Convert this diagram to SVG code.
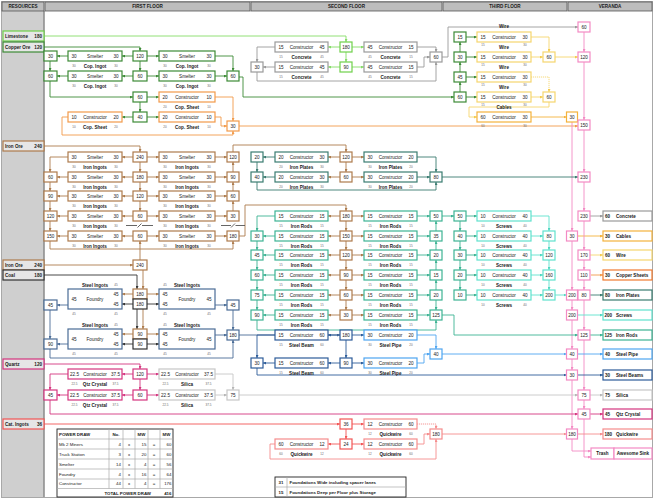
<svg xmlns="http://www.w3.org/2000/svg" width="654" height="500" viewBox="0 0 654 500">
<style>
text{font-family:"Liberation Sans",Arial,Helvetica,sans-serif;fill:#1a1a1a}
.t{font-size:4.6px;text-anchor:middle}
.b{font-weight:bold}
.s{font-size:3px;text-anchor:middle;fill:#666}
.stt{text-anchor:start}
.en{text-anchor:end}
.h{font-size:4.6px;font-weight:bold;text-anchor:middle}
.n rect{fill:#fff;stroke-width:1.2}
.r rect{fill:#e6e6e6;stroke-width:1.2}
.r text{font-size:4.6px;font-weight:bold}
.c path{fill:none;stroke-width:.9}
.c path.d{stroke-dasharray:1.2 .8}
.lime rect{stroke:#6fd04a}.lime path{stroke:#86dc68;marker-end:url(#m-lime)}
.cu rect{stroke:#3c8a36}.cu path{stroke:#3c8a36;marker-end:url(#m-cu)}
.cs rect{stroke:#f29a4a}.cs path{stroke:#f29a4a;marker-end:url(#m-cs)}
.csh rect{stroke:#f07a30}
.gray rect{stroke:#9a9a9a}.gray path{stroke:#9a9a9a;marker-end:url(#m-gray)}
.wire rect{stroke:#f6d66e}.wire path{stroke:#f6d66e;marker-end:url(#m-wire)}
.cab rect{stroke:#f4b23c}.cab path{stroke:#f4b23c;marker-end:url(#m-cab)}
.ver rect{stroke:#f38ac4}.ver path{stroke:#f38ac4;marker-end:url(#m-ver)}
.fe rect{stroke:#ad7b4c}.fe path{stroke:#ad7b4c;marker-end:url(#m-fe)}
.pl rect{stroke:#3a7c71}.pl path{stroke:#3a7c71;marker-end:url(#m-pl)}
.rod rect{stroke:#3db393}.rod path{stroke:#3db393;marker-end:url(#m-rod)}
.scr rect{stroke:#5fe2cd}.scr path{stroke:#5fe2cd;marker-end:url(#m-scr)}
.st rect{stroke:#4a6c96}.st path{stroke:#4a6c96;marker-end:url(#m-st)}
.coal rect{stroke:#333}.coal path{stroke:#333;marker-end:url(#m-coal)}
.bm rect{stroke:#2d5c99}.bm path{stroke:#2d5c99;marker-end:url(#m-bm)}
.pp rect{stroke:#4ea5f0}.pp path{stroke:#4ea5f0;marker-end:url(#m-pp)}
.qz rect{stroke:#d4357f}.qz path{stroke:#d4357f;marker-end:url(#m-qz)}
.si rect{stroke:#c6c6c6}.si path{stroke:#c6c6c6;marker-end:url(#m-si)}
.cat rect{stroke:#f25555}.cat path{stroke:#f25555;marker-end:url(#m-cat)}
.qw rect{stroke:#f58c8c}.qw path{stroke:#f58c8c;marker-end:url(#m-qw)}
.brk path{stroke:#555;marker-end:none}
.tb rect{fill:#fff;stroke:#222;stroke-width:.9}
.tb path{fill:none;stroke:#aaa;stroke-width:.7}
.tb text{font-size:4.4px}
</style>
<defs>
<marker id="m-lime" viewBox="0 0 6 6" refX="6" refY="3" markerWidth="3" markerHeight="3" markerUnits="userSpaceOnUse" orient="auto"><path d="M0,0L6,3L0,6z" fill="#86dc68"/></marker>
<marker id="m-cu" viewBox="0 0 6 6" refX="6" refY="3" markerWidth="3" markerHeight="3" markerUnits="userSpaceOnUse" orient="auto"><path d="M0,0L6,3L0,6z" fill="#3c8a36"/></marker>
<marker id="m-cs" viewBox="0 0 6 6" refX="6" refY="3" markerWidth="3" markerHeight="3" markerUnits="userSpaceOnUse" orient="auto"><path d="M0,0L6,3L0,6z" fill="#f29a4a"/></marker>
<marker id="m-gray" viewBox="0 0 6 6" refX="6" refY="3" markerWidth="3" markerHeight="3" markerUnits="userSpaceOnUse" orient="auto"><path d="M0,0L6,3L0,6z" fill="#9a9a9a"/></marker>
<marker id="m-wire" viewBox="0 0 6 6" refX="6" refY="3" markerWidth="3" markerHeight="3" markerUnits="userSpaceOnUse" orient="auto"><path d="M0,0L6,3L0,6z" fill="#f3cc50"/></marker>
<marker id="m-cab" viewBox="0 0 6 6" refX="6" refY="3" markerWidth="3" markerHeight="3" markerUnits="userSpaceOnUse" orient="auto"><path d="M0,0L6,3L0,6z" fill="#f4b23c"/></marker>
<marker id="m-ver" viewBox="0 0 6 6" refX="6" refY="3" markerWidth="3" markerHeight="3" markerUnits="userSpaceOnUse" orient="auto"><path d="M0,0L6,3L0,6z" fill="#f38ac4"/></marker>
<marker id="m-fe" viewBox="0 0 6 6" refX="6" refY="3" markerWidth="3" markerHeight="3" markerUnits="userSpaceOnUse" orient="auto"><path d="M0,0L6,3L0,6z" fill="#ad7b4c"/></marker>
<marker id="m-pl" viewBox="0 0 6 6" refX="6" refY="3" markerWidth="3" markerHeight="3" markerUnits="userSpaceOnUse" orient="auto"><path d="M0,0L6,3L0,6z" fill="#3a7c71"/></marker>
<marker id="m-rod" viewBox="0 0 6 6" refX="6" refY="3" markerWidth="3" markerHeight="3" markerUnits="userSpaceOnUse" orient="auto"><path d="M0,0L6,3L0,6z" fill="#3db393"/></marker>
<marker id="m-scr" viewBox="0 0 6 6" refX="6" refY="3" markerWidth="3" markerHeight="3" markerUnits="userSpaceOnUse" orient="auto"><path d="M0,0L6,3L0,6z" fill="#4fd6c0"/></marker>
<marker id="m-st" viewBox="0 0 6 6" refX="6" refY="3" markerWidth="3" markerHeight="3" markerUnits="userSpaceOnUse" orient="auto"><path d="M0,0L6,3L0,6z" fill="#4a6c96"/></marker>
<marker id="m-coal" viewBox="0 0 6 6" refX="6" refY="3" markerWidth="3" markerHeight="3" markerUnits="userSpaceOnUse" orient="auto"><path d="M0,0L6,3L0,6z" fill="#333"/></marker>
<marker id="m-bm" viewBox="0 0 6 6" refX="6" refY="3" markerWidth="3" markerHeight="3" markerUnits="userSpaceOnUse" orient="auto"><path d="M0,0L6,3L0,6z" fill="#2d5c99"/></marker>
<marker id="m-pp" viewBox="0 0 6 6" refX="6" refY="3" markerWidth="3" markerHeight="3" markerUnits="userSpaceOnUse" orient="auto"><path d="M0,0L6,3L0,6z" fill="#4ea5f0"/></marker>
<marker id="m-qz" viewBox="0 0 6 6" refX="6" refY="3" markerWidth="3" markerHeight="3" markerUnits="userSpaceOnUse" orient="auto"><path d="M0,0L6,3L0,6z" fill="#d4357f"/></marker>
<marker id="m-si" viewBox="0 0 6 6" refX="6" refY="3" markerWidth="3" markerHeight="3" markerUnits="userSpaceOnUse" orient="auto"><path d="M0,0L6,3L0,6z" fill="#b5b5b5"/></marker>
<marker id="m-cat" viewBox="0 0 6 6" refX="6" refY="3" markerWidth="3" markerHeight="3" markerUnits="userSpaceOnUse" orient="auto"><path d="M0,0L6,3L0,6z" fill="#f25555"/></marker>
<marker id="m-qw" viewBox="0 0 6 6" refX="6" refY="3" markerWidth="3" markerHeight="3" markerUnits="userSpaceOnUse" orient="auto"><path d="M0,0L6,3L0,6z" fill="#f58c8c"/></marker>
</defs>

<rect x="0" y="0" width="654" height="500" fill="#fff"/>
<g id="frame">
<rect x="2" y="11" width="42" height="486" fill="#cfcfcf"/>
<path d="M44,11V497" stroke="#8a8a8a" stroke-width="1.5"/>
<rect x="1.5" y="1.5" width="651" height="496" fill="none" stroke="#a8a8a8" stroke-width="1"/>
<g fill="#bdbdbd" stroke="#555" stroke-width=".8">
<rect x="2" y="2" width="42" height="9"/><rect x="45" y="2" width="205" height="9"/><rect x="251" y="2" width="191" height="9"/><rect x="443" y="2" width="124" height="9"/><rect x="568" y="2" width="84" height="9"/>
</g>
<text class="h" x="23" y="8.3">RESOURCES</text><text class="h" x="147.5" y="8.3">FIRST FLOOR</text><text class="h" x="346.5" y="8.3">SECOND FLOOR</text><text class="h" x="505" y="8.3">THIRD FLOOR</text><text class="h" x="610" y="8.3">VERANDA</text>
</g>

<g id="connectors" class="c">
<g class="lime">
<path d="M44,36H346V42"/><path d="M340,47H328"/><path d="M352,47H364"/><path d="M346,52V62"/><path d="M340,67H328"/><path d="M352,67H364"/>
</g>
<g class="cu">
<path d="M44,47H140V51"/><path d="M133,56H122"/><path d="M147,56H159"/><path d="M140,61V71"/><path d="M68,56H57"/><path d="M50,61V71"/>
<path d="M133,76H122"/><path d="M147,76H159"/><path d="M68,76H57"/><path d="M50,81V97H133"/><path d="M147,97H159"/><path d="M140,102V112"/>
<path d="M133,117H122"/><path d="M147,117H159"/><path d="M215,56H233V71"/><path d="M215,76H227"/><path d="M239,77H243V97H454"/>
<path d="M460,92V82"/><path d="M460,72V62"/><path d="M460,52V42"/>
<path d="M466,37H477"/><path d="M466,57H477"/><path d="M466,77H477"/><path d="M466,97H477"/>
</g>
<g class="cs">
<path d="M215,97H233V121"/><path d="M215,117H221V126H227"/><path d="M68,117H62V135H233V131"/><path d="M239,126H578"/><path d="M591,275H603"/>
</g>
<g class="gray">
<path d="M275,47H257V62"/><path d="M275,67H263"/><path d="M257,72V81H436V62"/><path d="M417,47H436V52"/><path d="M417,67H424V57H430"/><path d="M442,57H448V27H578"/><path d="M590,216H603"/>
</g>
<g class="wire">
<path d="M531,37H549V52"/><path d="M531,57H543"/><path class="d" d="M531,77H549V92"/><path d="M531,97H543"/><path d="M555,57H578"/><path d="M549,102V107H469V117H477"/><path d="M590,255H603"/>
</g>
<g class="cab">
<path d="M531,117H566.5"/><path d="M577.5,236H603"/>
</g>
<g class="ver">
<path d="M584,32V52"/><path d="M584,62V120"/><path d="M584,130V172"/><path d="M584,182V211"/><path d="M584,221V250"/><path d="M584,260V270"/><path d="M584,280V290"/><path d="M584,300V330"/><path d="M584,340V390"/><path d="M584,400V409"/><path d="M584,419V457H591"/>
<path d="M572,122V231"/><path d="M572,241V290"/><path d="M572,300V310"/><path d="M572,320V349"/><path d="M572,359V370"/><path d="M572,380V429"/><path d="M572,439V451H591"/>
</g>
<g class="fe">
<path d="M44,146H140V152"/>
<path d="M133,157H122"/><path d="M147,157H159"/><path d="M140,162V172"/>
<path d="M133,177H122"/><path d="M147,177H159"/><path d="M140,182V191"/>
<path d="M133,196H122"/><path d="M147,196H159"/><path d="M140,201V211"/>
<path d="M133,216H122"/><path d="M147,216H159"/>
<path d="M133,236H122"/><path d="M147,236H159"/>
<path d="M68,157H50V172"/><path d="M68,177H57"/><path d="M68,196H57"/><path d="M68,216H57"/><path d="M68,236H57"/>
<path d="M50,182V191"/><path d="M50,201V211"/><path d="M50,221V231"/>
<path d="M215,157H227"/><path d="M215,177H227"/><path d="M215,196H227"/><path d="M215,216H227"/><path d="M215,236H227"/>
<path d="M233,211V201"/><path d="M233,191V182"/><path d="M233,172V162"/>
<path d="M233,152V145H346V152"/>
<path d="M50,241V249H233V241"/>
<path d="M239,236H245V205H346V211"/>
<path d="M44,265H133"/><path d="M140,260V241"/><path d="M143,270V289"/>
<path d="M340,157H328"/><path d="M352,157H364"/><path d="M346,162V172"/><path d="M340,177H328"/><path d="M352,177H364"/>
<path d="M346,221V231"/><path d="M346,241V250"/><path d="M346,260V270"/><path d="M346,280V290"/><path d="M346,300V310"/>
<path d="M340,216H328"/><path d="M352,216H364"/><path d="M340,236H328"/><path d="M352,236H364"/><path d="M340,255H328"/><path d="M352,255H364"/>
<path d="M340,275H328"/><path d="M352,275H364"/><path d="M340,295H328"/><path d="M352,295H364"/><path d="M340,315H328"/><path d="M352,315H364"/>
<path d="M133,294H122"/><path d="M147,294H159"/><path d="M143,309V329"/><path d="M133,334H122"/><path d="M147,334H159"/>
</g>
<g class="brk">
<path d="M126,225.5H137M137.5,227.5L141.5,223.5M142,225.5H153"/><path d="M221,225.5H231M231,227.5L235,223.5M235.5,225.5H245"/>
</g>
<g class="pl">
<path d="M275,157H263"/><path d="M275,177H263"/><path d="M257,162V172"/><path d="M257,182V190H436V182"/><path d="M417,157H436V172"/><path d="M417,177H430"/><path d="M442,177H578"/><path d="M590,295H603"/>
</g>
<g class="rod">
<path d="M275,216H257V231"/><path d="M275,236H263"/><path d="M275,255H263"/><path d="M275,275H263"/><path d="M275,295H263"/><path d="M275,315H263"/>
<path d="M257,241V250"/><path d="M257,260V270"/><path d="M257,280V290"/><path d="M257,300V310"/><path d="M257,320V330H436V320"/>
<path d="M417,216H430"/><path d="M417,236H430"/><path d="M417,255H430"/><path d="M417,275H430"/><path d="M417,295H430"/><path d="M417,315H430"/>
<path d="M436,231V221"/><path d="M436,250V241"/><path d="M436,270V260"/><path d="M436,290V280"/><path d="M436,300V310"/>
<path d="M442,216H454"/><path d="M442,315H454V335H578"/>
<path d="M460,221V231"/><path d="M460,241V250"/><path d="M460,260V270"/><path d="M460,280V290"/>
<path d="M466,216H477"/><path d="M466,236H477"/><path d="M466,255H477"/><path d="M466,275H477"/><path d="M466,295H477"/>
<path d="M590,335H603"/>
</g>
<g class="scr">
<path d="M531,216H549V231"/><path d="M531,236H543"/><path d="M531,255H543"/><path d="M531,275H543"/><path d="M531,295H543"/>
<path d="M549,241V250"/><path d="M549,260V270"/><path d="M549,280V290"/><path d="M555,295H566.5"/><path d="M577.5,315H603"/>
</g>
<g class="coal">
<path d="M44,275H137V289"/><path d="M133,304H122"/><path d="M147,304H159"/><path d="M137,309V329"/><path d="M133,344H122"/><path d="M147,344H159"/>
</g>
<g class="st">
<path d="M68,305H57"/><path d="M50,310V339"/><path d="M68,344H57"/><path d="M50,349V358H233V340"/><path d="M215,305H227"/><path d="M233,310V330"/><path d="M215,335H227"/><path d="M239,335H340"/>
</g>
<g class="bm">
<path d="M340,335H328"/><path d="M352,335H364"/><path d="M346,340V358"/><path d="M340,363H328"/><path d="M352,363H364"/>
<path d="M275,335H257V358"/><path d="M275,363H263"/><path d="M257,368V375H566.5"/><path d="M577.5,375H603"/>
</g>
<g class="pp">
<path d="M417,335H436V349"/><path d="M417,363H424V354H430"/><path d="M442,354H566.5"/><path d="M577.5,354H603"/>
</g>
<g class="qz">
<path d="M44,364H140V369"/><path d="M133,374H122"/><path d="M147,374H159"/><path d="M140,379V390"/><path d="M133,395H122"/><path d="M147,395H159"/>
<path d="M68,374H50V390"/><path d="M68,395H57"/><path d="M50,400V414H578"/><path d="M590,414H603"/>
</g>
<g class="si">
<path d="M215,374H233V390"/><path d="M215,395H227"/><path d="M239,395H578"/><path d="M590,395H603"/>
</g>
<g class="cat">
<path d="M44,424H340"/><path d="M352,424H364"/><path d="M346,429V439"/><path d="M340,444H328"/><path d="M352,444H364"/>
</g>
<g class="qw">
<path class="d" d="M417,424H436V429"/><path d="M417,444H424V434H430"/><path d="M275,444H270V459H436V439"/><path d="M442,434H566.5"/><path d="M577.5,434H603"/>
</g>
</g>

<g id="resources">
<g id="res-limestone" class="r lime"><rect x="3" y="31" width="41" height="10"/><text x="5" y="37.7">Limestone</text><text class="en" x="42" y="37.7">180</text></g>
<g id="res-copper" class="r cu"><rect x="3" y="42" width="41" height="10"/><text x="5" y="48.7">Copper Ore</text><text class="en" x="42" y="48.7">120</text></g>
<g id="res-iron1" class="r fe"><rect x="3" y="141" width="41" height="10"/><text x="5" y="147.7">Iron Ore</text><text class="en" x="42" y="147.7">240</text></g>
<g id="res-iron2" class="r fe"><rect x="3" y="260" width="41" height="10"/><text x="5" y="266.7">Iron Ore</text><text class="en" x="42" y="266.7">240</text></g>
<g id="res-coal" class="r coal"><rect x="3" y="270" width="41" height="10"/><text x="5" y="276.7">Coal</text><text class="en" x="42" y="276.7">180</text></g>
<g id="res-quartz" class="r qz"><rect x="3" y="359" width="41" height="10"/><text x="5" y="365.7">Quartz</text><text class="en" x="42" y="365.7">120</text></g>
<g id="res-cat" class="r cat"><rect x="3" y="419" width="41" height="10"/><text x="5" y="425.7">Cat. Ingots</text><text class="en" x="42" y="425.7">36</text></g>
</g>

<g id="copper">
<g id="cu-30" class="n cu"><rect x="44" y="51" width="13" height="10"/><text class="t" x="50.5" y="57.7">30</text></g>
<g id="cu-60a" class="n cu"><rect x="44" y="71" width="13" height="10"/><text class="t" x="50.5" y="77.7">60</text></g>
<g id="cu-120" class="n cu"><rect x="133" y="51" width="14" height="10"/><text class="t" x="140" y="57.7">120</text></g>
<g id="cu-60b" class="n cu"><rect x="133" y="71" width="14" height="10"/><text class="t" x="140" y="77.7">60</text></g>
<g id="cu-60c" class="n cu"><rect x="133" y="92" width="14" height="10"/><text class="t" x="140" y="98.7">60</text></g>
<g id="cu-40" class="n cu"><rect x="133" y="112" width="14" height="10"/><text class="t" x="140" y="118.7">40</text></g>
<g id="cu-60d" class="n cu"><rect x="227" y="71" width="12" height="10"/><text class="t" x="233" y="77.7">60</text></g>
<g id="cs-30" class="n cs"><rect x="227" y="121" width="12" height="10"/><text class="t" x="233" y="127.7">30</text></g>
<g id="sm-cu1" class="n cu"><rect x="68" y="51" width="54" height="10"/><text class="t" x="74" y="57.7">30</text><text class="t" x="95" y="57.7">Smelter</text><text class="t" x="116" y="57.7">30</text><text class="s" x="74" y="66.5">30</text><text class="s" x="116" y="66.5">30</text><text class="t b" x="95" y="67.6">Cop. Ingot</text></g>
<g id="sm-cu2" class="n cu"><rect x="159" y="51" width="56" height="10"/><text class="t" x="165" y="57.7">30</text><text class="t" x="187" y="57.7">Smelter</text><text class="t" x="209" y="57.7">30</text><text class="s" x="165" y="66.5">30</text><text class="s" x="209" y="66.5">30</text><text class="t b" x="187" y="67.6">Cop. Ingot</text></g>
<g id="sm-cu3" class="n cu"><rect x="68" y="71" width="54" height="10"/><text class="t" x="74" y="77.7">30</text><text class="t" x="95" y="77.7">Smelter</text><text class="t" x="116" y="77.7">30</text><text class="s" x="74" y="86.5">30</text><text class="s" x="116" y="86.5">30</text><text class="t b" x="95" y="87.6">Cop. Ingot</text></g>
<g id="sm-cu4" class="n cu"><rect x="159" y="71" width="56" height="10"/><text class="t" x="165" y="77.7">30</text><text class="t" x="187" y="77.7">Smelter</text><text class="t" x="209" y="77.7">30</text><text class="s" x="165" y="86.5">30</text><text class="s" x="209" y="86.5">30</text><text class="t b" x="187" y="87.6">Cop. Ingot</text></g>
<g id="con-cs1" class="n cs"><rect x="159" y="92" width="56" height="10"/><text class="t" x="165" y="98.7">20</text><text class="t" x="187" y="98.7">Constructor</text><text class="t" x="209" y="98.7">10</text><text class="s" x="165" y="107.5">20</text><text class="s" x="209" y="107.5">10</text><text class="t b" x="187" y="108.6">Cop. Sheet</text></g>
<g id="con-cs2" class="n cs"><rect x="68" y="112" width="54" height="10"/><text class="t" x="74" y="118.7">10</text><text class="t" x="95" y="118.7">Constructor</text><text class="t" x="116" y="118.7">20</text><text class="s" x="74" y="127.5">10</text><text class="s" x="116" y="127.5">20</text><text class="t b" x="95" y="128.6">Cop. Sheet</text></g>
<g id="con-cs3" class="n cs"><rect x="159" y="112" width="56" height="10"/><text class="t" x="165" y="118.7">20</text><text class="t" x="187" y="118.7">Constructor</text><text class="t" x="209" y="118.7">10</text><text class="s" x="165" y="127.5">20</text><text class="s" x="209" y="127.5">10</text><text class="t b" x="187" y="128.6">Cop. Sheet</text></g>
</g>

<g id="concrete">
<g id="lime-180" class="n lime"><rect x="340" y="42" width="12" height="10"/><text class="t" x="346" y="48.7">180</text></g>
<g id="lime-90" class="n lime"><rect x="340" y="62" width="12" height="10"/><text class="t" x="346" y="68.7">90</text></g>
<g id="gray-30" class="n gray"><rect x="251" y="62" width="12" height="10"/><text class="t" x="257" y="68.7">30</text></g>
<g id="gray-60" class="n gray"><rect x="430" y="52" width="12" height="10"/><text class="t" x="436" y="58.7">60</text></g>
<g id="con-c1" class="n gray"><rect x="275" y="42" width="53" height="10"/><text class="t" x="281" y="48.7">15</text><text class="t" x="301.5" y="48.7">Constructor</text><text class="t" x="322" y="48.7">45</text><text class="s" x="281" y="57.5">15</text><text class="s" x="322" y="57.5">45</text><text class="t b" x="301.5" y="58.6">Concrete</text></g>
<g id="con-c2" class="n gray"><rect x="364" y="42" width="53" height="10"/><text class="t" x="370" y="48.7">45</text><text class="t" x="390.5" y="48.7">Constructor</text><text class="t" x="411" y="48.7">15</text><text class="s" x="370" y="57.5">45</text><text class="s" x="411" y="57.5">15</text><text class="t b" x="390.5" y="58.6">Concrete</text></g>
<g id="con-c3" class="n gray"><rect x="275" y="62" width="53" height="10"/><text class="t" x="281" y="68.7">15</text><text class="t" x="301.5" y="68.7">Constructor</text><text class="t" x="322" y="68.7">45</text><text class="s" x="281" y="77.5">15</text><text class="s" x="322" y="77.5">45</text><text class="t b" x="301.5" y="78.6">Concrete</text></g>
<g id="con-c4" class="n gray"><rect x="364" y="62" width="53" height="10"/><text class="t" x="370" y="68.7">45</text><text class="t" x="390.5" y="68.7">Constructor</text><text class="t" x="411" y="68.7">15</text><text class="s" x="370" y="77.5">45</text><text class="s" x="411" y="77.5">15</text><text class="t b" x="390.5" y="78.6">Concrete</text></g>
</g>

<g id="wire">
<g id="t-15" class="n cu"><rect x="454" y="32" width="12" height="10"/><text class="t" x="460" y="38.7">15</text></g>
<g id="t-30" class="n cu"><rect x="454" y="52" width="12" height="10"/><text class="t" x="460" y="58.7">30</text></g>
<g id="t-45" class="n cu"><rect x="454" y="72" width="12" height="10"/><text class="t" x="460" y="78.7">45</text></g>
<g id="t-60" class="n cu"><rect x="454" y="92" width="12" height="10"/><text class="t" x="460" y="98.7">60</text></g>
<g id="con-w1" class="n wire"><rect x="477" y="32" width="54" height="10"/><text class="t b" x="504" y="28">Wire</text><text class="t" x="483" y="38.7">15</text><text class="t" x="504" y="38.7">Constructor</text><text class="t" x="525" y="38.7">30</text><text class="s" x="483" y="46">15</text><text class="s" x="525" y="46">30</text></g>
<g id="con-w2" class="n wire"><rect x="477" y="52" width="54" height="10"/><text class="t b" x="504" y="48.5">Wire</text><text class="t" x="483" y="58.7">15</text><text class="t" x="504" y="58.7">Constructor</text><text class="t" x="525" y="58.7">30</text><text class="s" x="483" y="66">15</text><text class="s" x="525" y="66">30</text></g>
<g id="con-w3" class="n wire"><rect x="477" y="72" width="54" height="10"/><text class="t b" x="504" y="68.5">Wire</text><text class="t" x="483" y="78.7">15</text><text class="t" x="504" y="78.7">Constructor</text><text class="t" x="525" y="78.7">30</text><text class="s" x="483" y="86">15</text><text class="s" x="525" y="86">30</text></g>
<g id="con-w4" class="n wire"><rect x="477" y="92" width="54" height="10"/><text class="t b" x="504" y="88.5">Wire</text><text class="t" x="483" y="98.7">15</text><text class="t" x="504" y="98.7">Constructor</text><text class="t" x="525" y="98.7">30</text><text class="s" x="483" y="106">15</text><text class="s" x="525" y="106">30</text></g>
<g id="con-cab" class="n cab"><rect x="477" y="112" width="54" height="10"/><text class="t b" x="504" y="108.5">Cables</text><text class="t" x="483" y="118.7">60</text><text class="t" x="504" y="118.7">Constructor</text><text class="t" x="525" y="118.7">30</text><text class="s" x="483" y="126.5">60</text><text class="s" x="525" y="126.5">30</text></g>
<g id="w-60a" class="n wire"><rect x="543" y="52" width="12" height="10"/><text class="t" x="549" y="58.7">60</text></g>
<g id="w-60b" class="n wire"><rect x="543" y="92" width="12" height="10"/><text class="t" x="549" y="98.7">60</text></g>
<g id="cab-30" class="n cab"><rect x="566.5" y="112" width="11" height="10"/><text class="t" x="572" y="118.7">30</text></g>
</g>

<g id="iron-ingots">
<g id="fe-l60" class="n fe"><rect x="44" y="172" width="13" height="10"/><text class="t" x="50.5" y="178.7">60</text></g>
<g id="fe-l90" class="n fe"><rect x="44" y="191" width="13" height="10"/><text class="t" x="50.5" y="197.7">90</text></g>
<g id="fe-l120" class="n fe"><rect x="44" y="211" width="13" height="10"/><text class="t" x="50.5" y="217.7">120</text></g>
<g id="fe-l150" class="n fe"><rect x="44" y="231" width="13" height="10"/><text class="t" x="50.5" y="237.7">150</text></g>
<g id="fe-m240" class="n fe"><rect x="133" y="152" width="14" height="10"/><text class="t" x="140" y="158.7">240</text></g>
<g id="fe-m180" class="n fe"><rect x="133" y="172" width="14" height="10"/><text class="t" x="140" y="178.7">180</text></g>
<g id="fe-m120" class="n fe"><rect x="133" y="191" width="14" height="10"/><text class="t" x="140" y="197.7">120</text></g>
<g id="fe-m60a" class="n fe"><rect x="133" y="211" width="14" height="10"/><text class="t" x="140" y="217.7">60</text></g>
<g id="fe-m60b" class="n fe"><rect x="133" y="231" width="14" height="10"/><text class="t" x="140" y="237.7">60</text></g>
<g id="fe-r120" class="n fe"><rect x="227" y="152" width="12" height="10"/><text class="t" x="233" y="158.7">120</text></g>
<g id="fe-r90" class="n fe"><rect x="227" y="172" width="12" height="10"/><text class="t" x="233" y="178.7">90</text></g>
<g id="fe-r60" class="n fe"><rect x="227" y="191" width="12" height="10"/><text class="t" x="233" y="197.7">60</text></g>
<g id="fe-r30" class="n fe"><rect x="227" y="211" width="12" height="10"/><text class="t" x="233" y="217.7">30</text></g>
<g id="fe-r180" class="n fe"><rect x="227" y="231" width="12" height="10"/><text class="t" x="233" y="237.7">180</text></g>
<g id="sm-fe1" class="n fe"><rect x="68" y="152" width="54" height="10"/><text class="t" x="74" y="158.7">30</text><text class="t" x="95" y="158.7">Smelter</text><text class="t" x="116" y="158.7">30</text><text class="s" x="74" y="167.5">30</text><text class="s" x="116" y="167.5">30</text><text class="t b" x="95" y="168.6">Iron Ingots</text></g>
<g id="sm-fe2" class="n fe"><rect x="159" y="152" width="56" height="10"/><text class="t" x="165" y="158.7">30</text><text class="t" x="187" y="158.7">Smelter</text><text class="t" x="209" y="158.7">30</text><text class="s" x="165" y="167.5">30</text><text class="s" x="209" y="167.5">30</text><text class="t b" x="187" y="168.6">Iron Ingots</text></g>
<g id="sm-fe3" class="n fe"><rect x="68" y="172" width="54" height="10"/><text class="t" x="74" y="178.7">30</text><text class="t" x="95" y="178.7">Smelter</text><text class="t" x="116" y="178.7">30</text><text class="s" x="74" y="187.5">30</text><text class="s" x="116" y="187.5">30</text><text class="t b" x="95" y="188.6">Iron Ingots</text></g>
<g id="sm-fe4" class="n fe"><rect x="159" y="172" width="56" height="10"/><text class="t" x="165" y="178.7">30</text><text class="t" x="187" y="178.7">Smelter</text><text class="t" x="209" y="178.7">30</text><text class="s" x="165" y="187.5">30</text><text class="s" x="209" y="187.5">30</text><text class="t b" x="187" y="188.6">Iron Ingots</text></g>
<g id="sm-fe5" class="n fe"><rect x="68" y="191" width="54" height="10"/><text class="t" x="74" y="197.7">30</text><text class="t" x="95" y="197.7">Smelter</text><text class="t" x="116" y="197.7">30</text><text class="s" x="74" y="206.5">30</text><text class="s" x="116" y="206.5">30</text><text class="t b" x="95" y="207.6">Iron Ingots</text></g>
<g id="sm-fe6" class="n fe"><rect x="159" y="191" width="56" height="10"/><text class="t" x="165" y="197.7">30</text><text class="t" x="187" y="197.7">Smelter</text><text class="t" x="209" y="197.7">30</text><text class="s" x="165" y="206.5">30</text><text class="s" x="209" y="206.5">30</text><text class="t b" x="187" y="207.6">Iron Ingots</text></g>
<g id="sm-fe7" class="n fe"><rect x="68" y="211" width="54" height="10"/><text class="t" x="74" y="217.7">30</text><text class="t" x="95" y="217.7">Smelter</text><text class="t" x="116" y="217.7">30</text><text class="s" x="74" y="226.5">30</text><text class="s" x="116" y="226.5">30</text><text class="t b" x="95" y="227.6">Iron Ingots</text></g>
<g id="sm-fe8" class="n fe"><rect x="159" y="211" width="56" height="10"/><text class="t" x="165" y="217.7">30</text><text class="t" x="187" y="217.7">Smelter</text><text class="t" x="209" y="217.7">30</text><text class="s" x="165" y="226.5">30</text><text class="s" x="209" y="226.5">30</text><text class="t b" x="187" y="227.6">Iron Ingots</text></g>
<g id="sm-fe9" class="n fe"><rect x="68" y="231" width="54" height="10"/><text class="t" x="74" y="237.7">30</text><text class="t" x="95" y="237.7">Smelter</text><text class="t" x="116" y="237.7">30</text><text class="s" x="74" y="246.5">30</text><text class="s" x="116" y="246.5">30</text><text class="t b" x="95" y="247.6">Iron Ingots</text></g>
<g id="sm-fe10" class="n fe"><rect x="159" y="231" width="56" height="10"/><text class="t" x="165" y="237.7">30</text><text class="t" x="187" y="237.7">Smelter</text><text class="t" x="209" y="237.7">30</text><text class="s" x="165" y="246.5">30</text><text class="s" x="209" y="246.5">30</text><text class="t b" x="187" y="247.6">Iron Ingots</text></g>
</g>

<g id="iron-plates">
<g id="pl-20" class="n pl"><rect x="251" y="152" width="12" height="10"/><text class="t" x="257" y="158.7">20</text></g>
<g id="pl-40" class="n pl"><rect x="251" y="172" width="12" height="10"/><text class="t" x="257" y="178.7">40</text></g>
<g id="fe-p120" class="n fe"><rect x="340" y="152" width="12" height="10"/><text class="t" x="346" y="158.7">120</text></g>
<g id="fe-p60" class="n fe"><rect x="340" y="172" width="12" height="10"/><text class="t" x="346" y="178.7">60</text></g>
<g id="pl-80" class="n pl"><rect x="430" y="172" width="12" height="10"/><text class="t" x="436" y="178.7">80</text></g>
<g id="con-p1" class="n pl"><rect x="275" y="152" width="53" height="10"/><text class="t" x="281" y="158.7">20</text><text class="t" x="301.5" y="158.7">Constructor</text><text class="t" x="322" y="158.7">30</text><text class="s" x="281" y="167.5">20</text><text class="s" x="322" y="167.5">30</text><text class="t b" x="301.5" y="168.6">Iron Plates</text></g>
<g id="con-p2" class="n pl"><rect x="364" y="152" width="53" height="10"/><text class="t" x="370" y="158.7">30</text><text class="t" x="390.5" y="158.7">Constructor</text><text class="t" x="411" y="158.7">20</text><text class="s" x="370" y="167.5">30</text><text class="s" x="411" y="167.5">20</text><text class="t b" x="390.5" y="168.6">Iron Plates</text></g>
<g id="con-p3" class="n pl"><rect x="275" y="172" width="53" height="10"/><text class="t" x="281" y="178.7">20</text><text class="t" x="301.5" y="178.7">Constructor</text><text class="t" x="322" y="178.7">30</text><text class="s" x="281" y="187.5">20</text><text class="s" x="322" y="187.5">30</text><text class="t b" x="301.5" y="188.6">Iron Plates</text></g>
<g id="con-p4" class="n pl"><rect x="364" y="172" width="53" height="10"/><text class="t" x="370" y="178.7">30</text><text class="t" x="390.5" y="178.7">Constructor</text><text class="t" x="411" y="178.7">20</text><text class="s" x="370" y="187.5">30</text><text class="s" x="411" y="187.5">20</text><text class="t b" x="390.5" y="188.6">Iron Plates</text></g>
</g>

<g id="iron-rods">
<g id="fe-r1" class="n fe"><rect x="340" y="211" width="12" height="10"/><text class="t" x="346" y="217.7">180</text></g>
<g id="fe-r2" class="n fe"><rect x="340" y="231" width="12" height="10"/><text class="t" x="346" y="237.7">150</text></g>
<g id="fe-r3" class="n fe"><rect x="340" y="250" width="12" height="10"/><text class="t" x="346" y="256.7">120</text></g>
<g id="fe-r4" class="n fe"><rect x="340" y="270" width="12" height="10"/><text class="t" x="346" y="276.7">90</text></g>
<g id="fe-r5" class="n fe"><rect x="340" y="290" width="12" height="10"/><text class="t" x="346" y="296.7">60</text></g>
<g id="fe-r6" class="n fe"><rect x="340" y="310" width="12" height="10"/><text class="t" x="346" y="316.7">30</text></g>
<g id="rod-l30" class="n rod"><rect x="251" y="231" width="12" height="10"/><text class="t" x="257" y="237.7">30</text></g>
<g id="rod-l45" class="n rod"><rect x="251" y="250" width="12" height="10"/><text class="t" x="257" y="256.7">45</text></g>
<g id="rod-l60" class="n rod"><rect x="251" y="270" width="12" height="10"/><text class="t" x="257" y="276.7">60</text></g>
<g id="rod-l75" class="n rod"><rect x="251" y="290" width="12" height="10"/><text class="t" x="257" y="296.7">75</text></g>
<g id="rod-l90" class="n rod"><rect x="251" y="310" width="12" height="10"/><text class="t" x="257" y="316.7">90</text></g>
<g id="rod-r50" class="n rod"><rect x="430" y="211" width="12" height="10"/><text class="t" x="436" y="217.7">50</text></g>
<g id="rod-r35" class="n rod"><rect x="430" y="231" width="12" height="10"/><text class="t" x="436" y="237.7">35</text></g>
<g id="rod-r20a" class="n rod"><rect x="430" y="250" width="12" height="10"/><text class="t" x="436" y="256.7">20</text></g>
<g id="rod-r15" class="n rod"><rect x="430" y="270" width="12" height="10"/><text class="t" x="436" y="276.7">15</text></g>
<g id="rod-r20b" class="n rod"><rect x="430" y="290" width="12" height="10"/><text class="t" x="436" y="296.7">20</text></g>
<g id="rod-r125" class="n rod"><rect x="430" y="310" width="12" height="10"/><text class="t" x="436" y="316.7">125</text></g>
<g id="con-r1" class="n rod"><rect x="275" y="211" width="53" height="10"/><text class="t" x="281" y="217.7">15</text><text class="t" x="301.5" y="217.7">Constructor</text><text class="t" x="322" y="217.7">15</text><text class="s" x="281" y="226.5">15</text><text class="s" x="322" y="226.5">15</text><text class="t b" x="301.5" y="227.6">Iron Rods</text></g>
<g id="con-r2" class="n rod"><rect x="364" y="211" width="53" height="10"/><text class="t" x="370" y="217.7">15</text><text class="t" x="390.5" y="217.7">Constructor</text><text class="t" x="411" y="217.7">15</text><text class="s" x="370" y="226.5">15</text><text class="s" x="411" y="226.5">15</text><text class="t b" x="390.5" y="227.6">Iron Rods</text></g>
<g id="con-r3" class="n rod"><rect x="275" y="231" width="53" height="10"/><text class="t" x="281" y="237.7">15</text><text class="t" x="301.5" y="237.7">Constructor</text><text class="t" x="322" y="237.7">15</text><text class="s" x="281" y="246.5">15</text><text class="s" x="322" y="246.5">15</text><text class="t b" x="301.5" y="247.6">Iron Rods</text></g>
<g id="con-r4" class="n rod"><rect x="364" y="231" width="53" height="10"/><text class="t" x="370" y="237.7">15</text><text class="t" x="390.5" y="237.7">Constructor</text><text class="t" x="411" y="237.7">15</text><text class="s" x="370" y="246.5">15</text><text class="s" x="411" y="246.5">15</text><text class="t b" x="390.5" y="247.6">Iron Rods</text></g>
<g id="con-r5" class="n rod"><rect x="275" y="250" width="53" height="10"/><text class="t" x="281" y="256.7">15</text><text class="t" x="301.5" y="256.7">Constructor</text><text class="t" x="322" y="256.7">15</text><text class="s" x="281" y="265.5">15</text><text class="s" x="322" y="265.5">15</text><text class="t b" x="301.5" y="266.6">Iron Rods</text></g>
<g id="con-r6" class="n rod"><rect x="364" y="250" width="53" height="10"/><text class="t" x="370" y="256.7">15</text><text class="t" x="390.5" y="256.7">Constructor</text><text class="t" x="411" y="256.7">15</text><text class="s" x="370" y="265.5">15</text><text class="s" x="411" y="265.5">15</text><text class="t b" x="390.5" y="266.6">Iron Rods</text></g>
<g id="con-r7" class="n rod"><rect x="275" y="270" width="53" height="10"/><text class="t" x="281" y="276.7">15</text><text class="t" x="301.5" y="276.7">Constructor</text><text class="t" x="322" y="276.7">15</text><text class="s" x="281" y="285.5">15</text><text class="s" x="322" y="285.5">15</text><text class="t b" x="301.5" y="286.6">Iron Rods</text></g>
<g id="con-r8" class="n rod"><rect x="364" y="270" width="53" height="10"/><text class="t" x="370" y="276.7">15</text><text class="t" x="390.5" y="276.7">Constructor</text><text class="t" x="411" y="276.7">15</text><text class="s" x="370" y="285.5">15</text><text class="s" x="411" y="285.5">15</text><text class="t b" x="390.5" y="286.6">Iron Rods</text></g>
<g id="con-r9" class="n rod"><rect x="275" y="290" width="53" height="10"/><text class="t" x="281" y="296.7">15</text><text class="t" x="301.5" y="296.7">Constructor</text><text class="t" x="322" y="296.7">15</text><text class="s" x="281" y="305.5">15</text><text class="s" x="322" y="305.5">15</text><text class="t b" x="301.5" y="306.6">Iron Rods</text></g>
<g id="con-r10" class="n rod"><rect x="364" y="290" width="53" height="10"/><text class="t" x="370" y="296.7">15</text><text class="t" x="390.5" y="296.7">Constructor</text><text class="t" x="411" y="296.7">15</text><text class="s" x="370" y="305.5">15</text><text class="s" x="411" y="305.5">15</text><text class="t b" x="390.5" y="306.6">Iron Rods</text></g>
<g id="con-r11" class="n rod"><rect x="275" y="310" width="53" height="10"/><text class="t" x="281" y="316.7">15</text><text class="t" x="301.5" y="316.7">Constructor</text><text class="t" x="322" y="316.7">15</text><text class="s" x="281" y="325.5">15</text><text class="s" x="322" y="325.5">15</text><text class="t b" x="301.5" y="326.6">Iron Rods</text></g>
<g id="con-r12" class="n rod"><rect x="364" y="310" width="53" height="10"/><text class="t" x="370" y="316.7">15</text><text class="t" x="390.5" y="316.7">Constructor</text><text class="t" x="411" y="316.7">15</text><text class="s" x="370" y="325.5">15</text><text class="s" x="411" y="325.5">15</text><text class="t b" x="390.5" y="326.6">Iron Rods</text></g>
</g>

<g id="screws">
<g id="sc-l50" class="n rod"><rect x="454" y="211" width="12" height="10"/><text class="t" x="460" y="217.7">50</text></g>
<g id="sc-l40" class="n rod"><rect x="454" y="231" width="12" height="10"/><text class="t" x="460" y="237.7">40</text></g>
<g id="sc-l30" class="n rod"><rect x="454" y="250" width="12" height="10"/><text class="t" x="460" y="256.7">30</text></g>
<g id="sc-l20" class="n rod"><rect x="454" y="270" width="12" height="10"/><text class="t" x="460" y="276.7">20</text></g>
<g id="sc-l10" class="n rod"><rect x="454" y="290" width="12" height="10"/><text class="t" x="460" y="296.7">10</text></g>
<g id="sc-r80" class="n scr"><rect x="543" y="231" width="12" height="10"/><text class="t" x="549" y="237.7">80</text></g>
<g id="sc-r120" class="n scr"><rect x="543" y="250" width="12" height="10"/><text class="t" x="549" y="256.7">120</text></g>
<g id="sc-r160" class="n scr"><rect x="543" y="270" width="12" height="10"/><text class="t" x="549" y="276.7">160</text></g>
<g id="sc-r200" class="n scr"><rect x="543" y="290" width="12" height="10"/><text class="t" x="549" y="296.7">200</text></g>
<g id="con-s1" class="n scr"><rect x="477" y="211" width="54" height="10"/><text class="t" x="483" y="217.7">10</text><text class="t" x="504" y="217.7">Constructor</text><text class="t" x="525" y="217.7">40</text><text class="s" x="483" y="226.5">10</text><text class="s" x="525" y="226.5">40</text><text class="t b" x="504" y="227.6">Screws</text></g>
<g id="con-s2" class="n scr"><rect x="477" y="231" width="54" height="10"/><text class="t" x="483" y="237.7">10</text><text class="t" x="504" y="237.7">Constructor</text><text class="t" x="525" y="237.7">40</text><text class="s" x="483" y="246.5">10</text><text class="s" x="525" y="246.5">40</text><text class="t b" x="504" y="247.6">Screws</text></g>
<g id="con-s3" class="n scr"><rect x="477" y="250" width="54" height="10"/><text class="t" x="483" y="256.7">10</text><text class="t" x="504" y="256.7">Constructor</text><text class="t" x="525" y="256.7">40</text><text class="s" x="483" y="265.5">10</text><text class="s" x="525" y="265.5">40</text><text class="t b" x="504" y="266.6">Screws</text></g>
<g id="con-s4" class="n scr"><rect x="477" y="270" width="54" height="10"/><text class="t" x="483" y="276.7">10</text><text class="t" x="504" y="276.7">Constructor</text><text class="t" x="525" y="276.7">40</text><text class="s" x="483" y="285.5">10</text><text class="s" x="525" y="285.5">40</text><text class="t b" x="504" y="286.6">Screws</text></g>
<g id="con-s5" class="n scr"><rect x="477" y="290" width="54" height="10"/><text class="t" x="483" y="296.7">10</text><text class="t" x="504" y="296.7">Constructor</text><text class="t" x="525" y="296.7">40</text><text class="s" x="483" y="305.5">10</text><text class="s" x="525" y="305.5">40</text><text class="t b" x="504" y="306.6">Screws</text></g>
</g>

<g id="steel">
<g id="fe-s240" class="n fe"><rect x="133" y="260" width="14" height="10"/><text class="t" x="140" y="266.7">240</text></g>
<g id="fe-s180" class="n fe"><rect x="133" y="289" width="14" height="10"/><text class="t" x="140" y="295.7">180</text></g>
<g id="coal-180" class="n coal"><rect x="133" y="299" width="14" height="10"/><text class="t" x="140" y="305.7">180</text></g>
<g id="fe-s90" class="n fe"><rect x="133" y="329" width="14" height="10"/><text class="t" x="140" y="335.7">90</text></g>
<g id="coal-90" class="n coal"><rect x="133" y="339" width="14" height="10"/><text class="t" x="140" y="345.7">90</text></g>
<g id="st-l45" class="n st"><rect x="44" y="300" width="13" height="10"/><text class="t" x="50.5" y="306.7">45</text></g>
<g id="st-l90" class="n st"><rect x="44" y="339" width="13" height="10"/><text class="t" x="50.5" y="345.7">90</text></g>
<g id="st-r45" class="n st"><rect x="227" y="300" width="12" height="10"/><text class="t" x="233" y="306.7">45</text></g>
<g id="st-r180" class="n st"><rect x="227" y="330" width="12" height="10"/><text class="t" x="233" y="336.7">180</text></g>
<g id="fd-1" class="n st"><rect x="68" y="289" width="54" height="20"/><text class="t b" x="95" y="286.5">Steel Ingots</text><text class="s" x="116" y="286">45</text><text class="t" x="74" y="300.7">45</text><text class="t" x="95" y="300.7">Foundry</text><text class="t" x="116" y="295.7">45</text><text class="t" x="116" y="305.7">45</text><text class="s" x="74" y="314.5">45</text><text class="s" x="116" y="314.5">45</text></g>
<g id="fd-2" class="n st"><rect x="159" y="289" width="56" height="20"/><text class="t b" x="187" y="286.5">Steel Ingots</text><text class="s" x="165" y="286">45</text><text class="t" x="165" y="295.7">45</text><text class="t" x="165" y="305.7">45</text><text class="t" x="187" y="300.7">Foundry</text><text class="t" x="209" y="300.7">45</text><text class="s" x="165" y="314.5">45</text><text class="s" x="209" y="314.5">45</text></g>
<g id="fd-3" class="n st"><rect x="68" y="329" width="54" height="20"/><text class="t b" x="95" y="326.5">Steel Ingots</text><text class="s" x="116" y="326">45</text><text class="t" x="74" y="340.7">45</text><text class="t" x="95" y="340.7">Foundry</text><text class="t" x="116" y="335.7">45</text><text class="t" x="116" y="345.7">45</text><text class="s" x="74" y="354.5">45</text><text class="s" x="116" y="354.5">45</text></g>
<g id="fd-4" class="n st"><rect x="159" y="329" width="56" height="20"/><text class="t b" x="187" y="326.5">Steel Ingots</text><text class="s" x="165" y="326">45</text><text class="t" x="165" y="335.7">45</text><text class="t" x="165" y="345.7">45</text><text class="t" x="187" y="340.7">Foundry</text><text class="t" x="209" y="340.7">45</text><text class="s" x="165" y="354.5">45</text><text class="s" x="209" y="354.5">45</text></g>
</g>

<g id="beams-pipes">
<g id="bm-180" class="n bm"><rect x="340" y="330" width="12" height="10"/><text class="t" x="346" y="336.7">180</text></g>
<g id="bm-90" class="n bm"><rect x="340" y="358" width="12" height="10"/><text class="t" x="346" y="364.7">90</text></g>
<g id="bm-30" class="n bm"><rect x="251" y="358" width="12" height="10"/><text class="t" x="257" y="364.7">30</text></g>
<g id="pp-40" class="n pp"><rect x="430" y="349" width="12" height="10"/><text class="t" x="436" y="355.7">40</text></g>
<g id="con-b1" class="n bm"><rect x="275" y="330" width="53" height="10"/><text class="t" x="281" y="336.7">15</text><text class="t" x="301.5" y="336.7">Constructor</text><text class="t" x="322" y="336.7">60</text><text class="s" x="281" y="345.5">15</text><text class="s" x="322" y="345.5">60</text><text class="t b" x="301.5" y="346.6">Steel Beam</text></g>
<g id="con-b2" class="n bm"><rect x="275" y="358" width="53" height="10"/><text class="t" x="281" y="364.7">15</text><text class="t" x="301.5" y="364.7">Constructor</text><text class="t" x="322" y="364.7">60</text><text class="s" x="281" y="373.5">15</text><text class="s" x="322" y="373.5">60</text><text class="t b" x="301.5" y="374.6">Steel Beam</text></g>
<g id="con-pp1" class="n pp"><rect x="364" y="330" width="53" height="10"/><text class="t" x="370" y="336.7">30</text><text class="t" x="390.5" y="336.7">Constructor</text><text class="t" x="411" y="336.7">20</text><text class="s" x="370" y="345.5">30</text><text class="s" x="411" y="345.5">20</text><text class="t b" x="390.5" y="346.6">Steel Pipe</text></g>
<g id="con-pp2" class="n pp"><rect x="364" y="358" width="53" height="10"/><text class="t" x="370" y="364.7">30</text><text class="t" x="390.5" y="364.7">Constructor</text><text class="t" x="411" y="364.7">20</text><text class="s" x="370" y="373.5">30</text><text class="s" x="411" y="373.5">20</text><text class="t b" x="390.5" y="374.6">Steel Pipe</text></g>
</g>

<g id="quartz">
<g id="qz-120" class="n qz"><rect x="133" y="369" width="14" height="10"/><text class="t" x="140" y="375.7">120</text></g>
<g id="qz-60" class="n qz"><rect x="133" y="390" width="14" height="10"/><text class="t" x="140" y="396.7">60</text></g>
<g id="qz-45" class="n qz"><rect x="44" y="390" width="13" height="10"/><text class="t" x="50.5" y="396.7">45</text></g>
<g id="si-75" class="n si"><rect x="227" y="390" width="12" height="10"/><text class="t" x="233" y="396.7">75</text></g>
<g id="con-q1" class="n qz"><rect x="68" y="369" width="54" height="10"/><text class="t" x="74.5" y="375.7">22.5</text><text class="t" x="95" y="375.7">Constructor</text><text class="t" x="115.5" y="375.7">37.5</text><text class="s" x="74.5" y="384.5">22.5</text><text class="s" x="115.5" y="384.5">37.5</text><text class="t b" x="95" y="385.6">Qtz Crystal</text></g>
<g id="con-q2" class="n qz"><rect x="68" y="390" width="54" height="10"/><text class="t" x="74.5" y="396.7">22.5</text><text class="t" x="95" y="396.7">Constructor</text><text class="t" x="115.5" y="396.7">37.5</text><text class="s" x="74.5" y="405.5">22.5</text><text class="s" x="115.5" y="405.5">37.5</text><text class="t b" x="95" y="406.6">Qtz Crystal</text></g>
<g id="con-si1" class="n si"><rect x="159" y="369" width="56" height="10"/><text class="t" x="165.5" y="375.7">22.5</text><text class="t" x="187" y="375.7">Constructor</text><text class="t" x="208.5" y="375.7">37.5</text><text class="s" x="165.5" y="384.5">22.5</text><text class="s" x="208.5" y="384.5">37.5</text><text class="t b" x="187" y="385.6">Silica</text></g>
<g id="con-si2" class="n si"><rect x="159" y="390" width="56" height="10"/><text class="t" x="165.5" y="396.7">22.5</text><text class="t" x="187" y="396.7">Constructor</text><text class="t" x="208.5" y="396.7">37.5</text><text class="s" x="165.5" y="405.5">22.5</text><text class="s" x="208.5" y="405.5">37.5</text><text class="t b" x="187" y="406.6">Silica</text></g>
</g>

<g id="quickwire">
<g id="cat-36" class="n cat"><rect x="340" y="419" width="12" height="10"/><text class="t" x="346" y="425.7">36</text></g>
<g id="cat-24" class="n cat"><rect x="340" y="439" width="12" height="10"/><text class="t" x="346" y="445.7">24</text></g>
<g id="qw-180" class="n qw"><rect x="430" y="429" width="12" height="10"/><text class="t" x="436" y="435.7">180</text></g>
<g id="con-qw1" class="n qw"><rect x="364" y="419" width="53" height="10"/><text class="t" x="370" y="425.7">12</text><text class="t" x="390.5" y="425.7">Constructor</text><text class="t" x="411" y="425.7">60</text><text class="s" x="370" y="434.5">12</text><text class="s" x="411" y="434.5">60</text><text class="t b" x="390.5" y="435.6">Quickwire</text></g>
<g id="con-qw2" class="n qw"><rect x="364" y="439" width="53" height="10"/><text class="t" x="370" y="445.7">12</text><text class="t" x="390.5" y="445.7">Constructor</text><text class="t" x="411" y="445.7">60</text><text class="s" x="370" y="454.5">12</text><text class="s" x="411" y="454.5">60</text><text class="t b" x="390.5" y="455.6">Quickwire</text></g>
<g id="con-qw3" class="n qw"><rect x="275" y="439" width="53" height="10"/><text class="t" x="281" y="445.7">60</text><text class="t" x="301.5" y="445.7">Constructor</text><text class="t" x="322" y="445.7">12</text><text class="s" x="281" y="454.5">60</text><text class="s" x="322" y="454.5">12</text><text class="t b" x="301.5" y="455.6">Quickwire</text></g>
</g>

<g id="veranda">
<g id="v-60" class="n ver"><rect x="578" y="22" width="12" height="10"/><text class="t" x="584" y="28.7">60</text></g>
<g id="v-120" class="n ver"><rect x="578" y="52" width="12" height="10"/><text class="t" x="584" y="58.7">120</text></g>
<g id="v-150" class="n ver"><rect x="578" y="120" width="12" height="10"/><text class="t" x="584" y="126.7">150</text></g>
<g id="v-230a" class="n ver"><rect x="578" y="172" width="12" height="10"/><text class="t" x="584" y="178.7">230</text></g>
<g id="v-230b" class="n ver"><rect x="578" y="211" width="12" height="10"/><text class="t" x="584" y="217.7">230</text></g>
<g id="v-30a" class="n ver"><rect x="566.5" y="231" width="11" height="10"/><text class="t" x="572" y="237.7">30</text></g>
<g id="v-170" class="n ver"><rect x="578" y="250" width="12" height="10"/><text class="t" x="584" y="256.7">170</text></g>
<g id="v-110" class="n ver"><rect x="578" y="270" width="12" height="10"/><text class="t" x="584" y="276.7">110</text></g>
<g id="v-200a" class="n ver"><rect x="566.5" y="290" width="11" height="10"/><text class="t" x="572" y="296.7">200</text></g>
<g id="v-80" class="n ver"><rect x="578" y="290" width="12" height="10"/><text class="t" x="584" y="296.7">80</text></g>
<g id="v-200b" class="n ver"><rect x="566.5" y="310" width="11" height="10"/><text class="t" x="572" y="316.7">200</text></g>
<g id="v-125" class="n ver"><rect x="578" y="330" width="12" height="10"/><text class="t" x="584" y="336.7">125</text></g>
<g id="v-40" class="n ver"><rect x="566.5" y="349" width="11" height="10"/><text class="t" x="572" y="355.7">40</text></g>
<g id="v-30b" class="n ver"><rect x="566.5" y="370" width="11" height="10"/><text class="t" x="572" y="376.7">30</text></g>
<g id="v-75" class="n ver"><rect x="578" y="390" width="12" height="10"/><text class="t" x="584" y="396.7">75</text></g>
<g id="v-45" class="n ver"><rect x="578" y="409" width="12" height="10"/><text class="t" x="584" y="415.7">45</text></g>
<g id="v-180" class="n ver"><rect x="566.5" y="429" width="11" height="10"/><text class="t" x="572" y="435.7">180</text></g>
<g id="sink" class="n ver"><rect x="591" y="448" width="23" height="11"/><rect x="614" y="448" width="38" height="11"/><text class="t b" x="602.5" y="455.2">Trash</text><text class="t b" x="633" y="455.2">Awesome Sink</text></g>
</g>

<g id="outputs">
<g id="out-concrete" class="n gray"><rect x="603" y="211" width="49" height="10"/><text class="t b stt" x="605" y="217.7">60</text><text class="t b stt" x="616" y="217.7">Concrete</text></g>
<g id="out-cables" class="n cab"><rect x="603" y="231" width="49" height="10"/><text class="t b stt" x="605" y="237.7">30</text><text class="t b stt" x="616" y="237.7">Cables</text></g>
<g id="out-wire" class="n wire"><rect x="603" y="250" width="49" height="10"/><text class="t b stt" x="605" y="256.7">60</text><text class="t b stt" x="616" y="256.7">Wire</text></g>
<g id="out-cusheets" class="n csh"><rect x="603" y="270" width="49" height="10"/><text class="t b stt" x="605" y="276.7">30</text><text class="t b stt" x="616" y="276.7">Copper Sheets</text></g>
<g id="out-plates" class="n pl"><rect x="603" y="290" width="49" height="10"/><text class="t b stt" x="605" y="296.7">80</text><text class="t b stt" x="616" y="296.7">Iron Plates</text></g>
<g id="out-screws" class="n scr"><rect x="603" y="310" width="49" height="10"/><text class="t b stt" x="604.5" y="316.7">200</text><text class="t b stt" x="616" y="316.7">Screws</text></g>
<g id="out-rods" class="n rod"><rect x="603" y="330" width="49" height="10"/><text class="t b stt" x="604.5" y="336.7">125</text><text class="t b stt" x="616" y="336.7">Iron Rods</text></g>
<g id="out-pipe" class="n pp"><rect x="603" y="349" width="49" height="10"/><text class="t b stt" x="605" y="355.7">40</text><text class="t b stt" x="616" y="355.7">Steel Pipe</text></g>
<g id="out-beams" class="n bm"><rect x="603" y="370" width="49" height="10"/><text class="t b stt" x="605" y="376.7">30</text><text class="t b stt" x="616" y="376.7">Steel Beams</text></g>
<g id="out-silica" class="n si"><rect x="603" y="390" width="49" height="10"/><text class="t b stt" x="605" y="396.7">75</text><text class="t b stt" x="616" y="396.7">Silica</text></g>
<g id="out-qtz" class="n qz"><rect x="603" y="409" width="49" height="10"/><text class="t b stt" x="605" y="415.7">45</text><text class="t b stt" x="616" y="415.7">Qtz Crystal</text></g>
<g id="out-qw" class="n qw"><rect x="603" y="429" width="49" height="10"/><text class="t b stt" x="604.5" y="435.7">180</text><text class="t b stt" x="616" y="435.7">Quickwire</text></g>
</g>

<g id="power-table" class="tb">
<rect x="57" y="429" width="116" height="68"/>
<path d="M57,439H173M57,449H173M57,459H173M57,469H173M57,479H173M57,488.5H173M109,429V488.5M123,429V488.5M135,429V488.5M148,429V488.5M160,429V488.5"/>
<text class="b" x="59" y="435.6">POWER DRAW</text><text class="t b" x="116" y="435.6">No.</text><text class="t b" x="141.5" y="435.6">MW</text><text class="t b" x="166.5" y="435.6">MW</text>
<text x="59" y="445.6">Mk 2 Miners</text><text class="en" x="121" y="445.6">4</text><text class="t" x="129" y="445.6">x</text><text class="en" x="146.5" y="445.6">15</text><text class="t" x="154" y="445.6">=</text><text class="en" x="171.5" y="445.6">60</text>
<text x="59" y="455.6">Truck Station</text><text class="en" x="121" y="455.6">3</text><text class="t" x="129" y="455.6">x</text><text class="en" x="146.5" y="455.6">20</text><text class="t" x="154" y="455.6">=</text><text class="en" x="171.5" y="455.6">60</text>
<text x="59" y="465.6">Smelter</text><text class="en" x="121" y="465.6">14</text><text class="t" x="129" y="465.6">x</text><text class="en" x="146.5" y="465.6">4</text><text class="t" x="154" y="465.6">=</text><text class="en" x="171.5" y="465.6">56</text>
<text x="59" y="475.6">Foundry</text><text class="en" x="121" y="475.6">4</text><text class="t" x="129" y="475.6">x</text><text class="en" x="146.5" y="475.6">16</text><text class="t" x="154" y="475.6">=</text><text class="en" x="171.5" y="475.6">64</text>
<text x="59" y="485.3">Constructor</text><text class="en" x="121" y="485.3">44</text><text class="t" x="129" y="485.3">x</text><text class="en" x="146.5" y="485.3">4</text><text class="t" x="154" y="485.3">=</text><text class="en" x="171.5" y="485.3">176</text>
<text class="b en" x="151" y="494.5">TOTAL POWER DRAW</text><text class="b en" x="171.5" y="494.5">416</text>
</g>

<g id="notes" class="tb">
<rect x="275" y="477" width="131" height="20"/>
<path d="M275,487H406M287,477V497"/>
<text class="t b" x="281" y="483.6">31</text><text class="b" x="289.5" y="483.6">Foundations Wide including spacer lanes</text>
<text class="t b" x="281" y="493.6">15</text><text class="b" x="289.5" y="493.6">Foundations Deep per Floor plus Storage</text>
</g>
</svg>
